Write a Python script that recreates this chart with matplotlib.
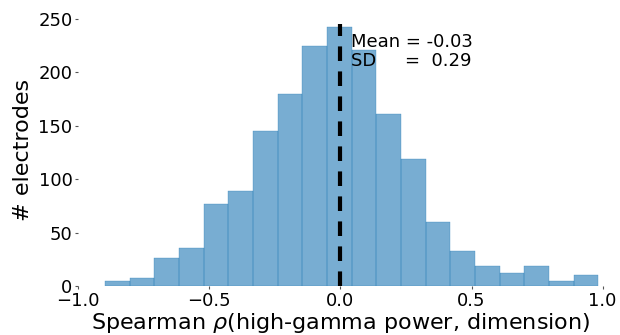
import numpy as np
import matplotlib
matplotlib.use('Agg')
import matplotlib.pyplot as plt

# histogram of Spearman rho values (20 bins between min and max)
rho_min = -0.898
rho_max = 0.984
counts = [5, 8, 26, 36, 77, 89, 145, 180, 225, 243,
          221, 161, 119, 60, 33, 19, 12, 19, 5, 10]
mean_rho = -0.03
sd_rho = 0.29
line_x = 0.0
line_top = 245

edges = np.linspace(rho_min, rho_max, len(counts) + 1)
widths = np.diff(edges)

fig = plt.figure(figsize=(6.2, 3.35), dpi=100)
ax = fig.add_axes([0.126, 0.146, 0.846, 0.813])

ax.bar(edges[:-1], counts, width=widths, align='edge', color='#1f77b4',
       alpha=0.6, edgecolor='#1f77b4', linewidth=0.35)
ax.vlines(line_x, 0, line_top, colors='black', linestyles=(0, (3.5, 2.5)), linewidth=3)
ax.text(0.04, 237, 'Mean = %.2f\nSD     =  %.2f' % (mean_rho, sd_rho),
        fontsize=13, va='top', ha='left', linespacing=1.05)

ax.set_xlim(-1.0, 1.0)
ax.set_ylim(0, 255)
ax.set_xticks([-1.0, -0.5, 0.0, 0.5, 1.0])
ax.set_yticks([0, 50, 100, 150, 200, 250])
for s in ax.spines.values():
    s.set_visible(False)
ax.tick_params(axis='both', labelsize=13, length=2, width=0.8, color='#555555', pad=2)
ax.set_xlabel(r'Spearman $\rho$(high-gamma power, dimension)', fontsize=16, labelpad=1)
ax.set_ylabel('# electrodes', fontsize=16, labelpad=4)

fig.savefig('out.png', dpi=100)
